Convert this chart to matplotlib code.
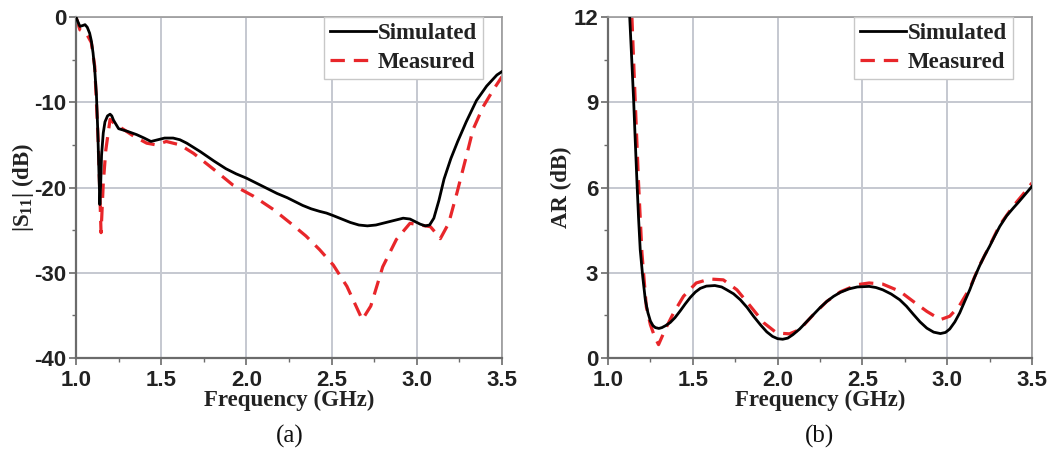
import matplotlib
matplotlib.use("Agg")
import matplotlib.pyplot as plt
from matplotlib.ticker import MultipleLocator
from matplotlib.font_manager import FontProperties

# ---------------- data ----------------
s11_sim_f = [1.0, 1.012, 1.023, 1.04, 1.053, 1.066, 1.08, 1.09, 1.10, 1.11, 1.12, 1.128,
             1.135, 1.14, 1.145, 1.15, 1.16, 1.17, 1.185, 1.20, 1.21, 1.22,
             1.25, 1.30, 1.356, 1.40, 1.44, 1.48, 1.52, 1.57, 1.61, 1.65, 1.73, 1.81,
             1.88, 1.94, 2.0, 2.06, 2.12, 2.18, 2.24, 2.29, 2.33, 2.38, 2.43, 2.47,
             2.51, 2.56, 2.61, 2.66, 2.71, 2.76, 2.80, 2.86, 2.92, 2.96, 2.99, 3.02,
             3.05, 3.075, 3.10, 3.13, 3.16, 3.20, 3.24, 3.29, 3.35, 3.41, 3.47, 3.5]
s11_sim = [0.0, -0.6, -1.1, -1.0, -0.9, -1.2, -1.9, -2.8, -4.2, -6.2, -9.2, -13.5,
           -18.5, -22.0, -19.5, -16.2, -13.6, -12.3, -11.6, -11.4, -11.6, -12.1,
           -13.1, -13.4, -13.8, -14.2, -14.6, -14.4, -14.2, -14.2, -14.4, -14.8, -15.8, -16.9,
           -17.8, -18.4, -18.9, -19.5, -20.1, -20.7, -21.2, -21.7, -22.1, -22.5, -22.8, -23.0,
           -23.3, -23.7, -24.1, -24.4, -24.5, -24.4, -24.2, -23.9, -23.6, -23.7, -24.0, -24.3,
           -24.5, -24.4, -23.6, -21.5, -19.0, -16.6, -14.6, -12.3, -9.8, -8.1, -6.8, -6.4]

s11_meas_f = [1.0, 1.023, 1.06, 1.09, 1.11, 1.13, 1.147, 1.16, 1.175, 1.20, 1.23, 1.28,
              1.34, 1.415, 1.47, 1.53, 1.61, 1.69, 1.81, 1.92, 2.04, 2.16, 2.26, 2.35,
              2.43, 2.51, 2.59, 2.68, 2.73, 2.80, 2.88, 2.96, 3.02, 3.08, 3.11, 3.138,
              3.187, 3.236, 3.295, 3.33, 3.39, 3.45, 3.5]
s11_meas = [0.0, -1.5, -1.9, -3.0, -5.8, -14.4, -25.3, -19.5, -15.6, -12.0, -12.6, -13.2,
            -14.0, -14.8, -15.0, -14.6, -15.0, -16.0, -17.9, -19.7, -21.0, -22.6, -24.2, -25.7,
            -27.3, -29.1, -31.6, -35.5, -33.9, -29.3, -26.1, -24.2, -24.4, -24.6, -25.3, -26.0,
            -24.2, -20.6, -16.0, -13.2, -10.5, -8.5, -7.0]

ar_sim_f = [1.128, 1.14, 1.151, 1.161, 1.171, 1.18, 1.19, 1.205, 1.22, 1.235, 1.25,
            1.265, 1.279, 1.30, 1.318, 1.34, 1.367, 1.395, 1.426, 1.455, 1.485,
            1.515, 1.544, 1.58, 1.63, 1.67, 1.70, 1.74, 1.78, 1.82, 1.858, 1.90, 1.936,
            1.97, 2.0, 2.03, 2.06, 2.09, 2.13, 2.17, 2.21, 2.25, 2.29, 2.33, 2.37,
            2.42, 2.47, 2.54, 2.58, 2.62, 2.67, 2.72, 2.76, 2.80, 2.84, 2.88, 2.92,
            2.96, 2.99, 3.015, 3.045, 3.074, 3.10, 3.133, 3.16, 3.19, 3.22, 3.25,
            3.28, 3.31, 3.35, 3.39, 3.42, 3.45, 3.5]
ar_sim = [12.0, 10.5, 9.09, 7.6, 6.16, 4.95, 3.81, 2.85, 2.05, 1.6, 1.3,
          1.14, 1.07, 1.04, 1.07, 1.14, 1.25, 1.42, 1.66, 1.9, 2.13,
          2.32, 2.45, 2.53, 2.55, 2.50, 2.40, 2.26, 2.05, 1.78, 1.47, 1.16, 0.92,
          0.76, 0.68, 0.66, 0.70, 0.82, 1.02, 1.27, 1.52, 1.77, 1.99, 2.17, 2.31,
          2.43, 2.50, 2.52, 2.48, 2.40, 2.25, 2.05, 1.82, 1.54, 1.27, 1.05, 0.91,
          0.86, 0.90, 1.02, 1.27, 1.59, 1.95, 2.40, 2.82, 3.23, 3.6, 3.93,
          4.29, 4.63, 5.0, 5.28, 5.48, 5.69, 6.04]

ar_meas_f = [1.141, 1.16, 1.18, 1.20, 1.226, 1.25, 1.275, 1.298, 1.337, 1.386, 1.445,
             1.52, 1.60, 1.68, 1.76, 1.84, 1.92, 1.995, 2.07, 2.13, 2.21, 2.29, 2.37,
             2.47, 2.54, 2.62, 2.72, 2.80, 2.88, 2.96, 3.015, 3.07, 3.133, 3.19, 3.25,
             3.31, 3.39, 3.45, 3.5]
ar_meas = [12.0, 9.1, 6.16, 3.7, 1.8, 1.17, 0.75, 0.47, 1.0, 1.58, 2.17,
           2.64, 2.78, 2.75, 2.40, 1.82, 1.23, 0.88, 0.85, 1.0, 1.52, 1.99, 2.33,
           2.58, 2.64, 2.60, 2.35, 1.99, 1.64, 1.35, 1.47, 1.82, 2.45, 3.25, 3.95,
           4.68, 5.35, 5.78, 6.16]

xticks = [1.0, 1.5, 2.0, 2.5, 3.0, 3.5]
s11_yticks = [-40, -30, -20, -10, 0]
ar_yticks = [0, 3, 6, 9, 12]
labels = ["Simulated", "Measured"]

# ---------------- styling ----------------
plt.rcParams['mathtext.fontset'] = 'custom'
plt.rcParams['mathtext.rm'] = 'Liberation Serif:bold'
plt.rcParams['mathtext.bf'] = 'Liberation Serif:bold'
plt.rcParams['mathtext.it'] = 'Liberation Serif:bold'

TICKFONT = dict(family='Liberation Sans', weight='bold', size=16)
LABFONT = dict(family='Liberation Serif', weight='bold', size=16.5)
RED = '#e8262a'
GRID = '#c5c8d0'
SPINE = '#6b6b6b'
TXT = '#222222'

fig = plt.figure(figsize=(10.53, 4.55), dpi=100)
axL = fig.add_axes([76/1053, 97/455, 426/1053, 341/455])
axR = fig.add_axes([608/1053, 97/455, 424/1053, 341/455])


def style(ax, ylim, yticks, ymin):
    ax.set_xlim(1.0, 3.5)
    ax.set_ylim(*ylim)
    ax.set_xticks(xticks)
    ax.set_yticks(yticks)
    ax.set_xticklabels([f"{v:.1f}" for v in xticks])
    ax.set_yticklabels([str(v) for v in yticks])
    ax.xaxis.set_minor_locator(MultipleLocator(0.25))
    ax.yaxis.set_minor_locator(MultipleLocator(ymin))
    ax.grid(True, which='major', color=GRID, lw=1.4, zorder=0)
    ax.set_axisbelow(True)
    ax.tick_params(which='major', direction='out', length=5, width=1.2,
                   colors=SPINE, top=False, right=False)
    ax.tick_params(axis='x', which='major', pad=3.5)
    ax.tick_params(axis='y', which='major', pad=2)
    ax.tick_params(which='minor', direction='out', length=3, width=1.0,
                   colors=SPINE, top=False, right=False)
    for lab in ax.get_xticklabels() + ax.get_yticklabels():
        lab.set_fontproperties(FontProperties(**TICKFONT))
        lab.set_color(TXT)
    for s in ['left', 'bottom']:
        ax.spines[s].set_color(SPINE)
        ax.spines[s].set_linewidth(1.6)
    for s in ['top', 'right']:
        ax.spines[s].set_color('#9a9a9a')
        ax.spines[s].set_linewidth(1.2)
    ax.set_xlabel("Frequency (GHz)", labelpad=-1, color=TXT, **LABFONT)


# left: |S11|
axL.plot(s11_sim_f, s11_sim, color='black', lw=2.0, label=labels[0], zorder=3)
axL.plot(s11_meas_f, s11_meas, color=RED, lw=2.3, dashes=(4.5, 2.8), label=labels[1], zorder=2)
style(axL, (-40, 0), s11_yticks, 5)
axL.set_ylabel(r"|S$_{\mathbf{11}}$| (dB)", labelpad=-1, color=TXT, **LABFONT)

# right: AR
axR.plot(ar_sim_f, ar_sim, color='black', lw=2.0, label=labels[0], zorder=3)
axR.plot(ar_meas_f, ar_meas, color=RED, lw=2.3, dashes=(4.5, 2.8), label=labels[1], zorder=2)
style(axR, (0, 12), ar_yticks, 1.5)
axR.set_ylabel("AR (dB)", labelpad=1, color=TXT, **LABFONT)

for ax in (axL, axR):
    leg = ax.legend(loc='upper right', bbox_to_anchor=(0.955, 1.0), frameon=True,
                    fancybox=False, edgecolor='#c8c8c8', framealpha=1.0,
                    handlelength=2.0, handletextpad=0.1, borderpad=0.25,
                    labelspacing=0.35, borderaxespad=0.0,
                    prop=dict(family='Liberation Serif', weight='bold', size=16.5))
    leg.get_frame().set_linewidth(1.0)
    for t in leg.get_texts():
        t.set_color(TXT)

fig.text(290/1053, 1 - 436/455, "(a)", ha='center', va='center',
         family='Liberation Serif', size=18, color='#111111')
fig.text(820/1053, 1 - 436/455, "(b)", ha='center', va='center',
         family='Liberation Serif', size=18, color='#111111')

fig.savefig("out.png", dpi=100, facecolor='white')
